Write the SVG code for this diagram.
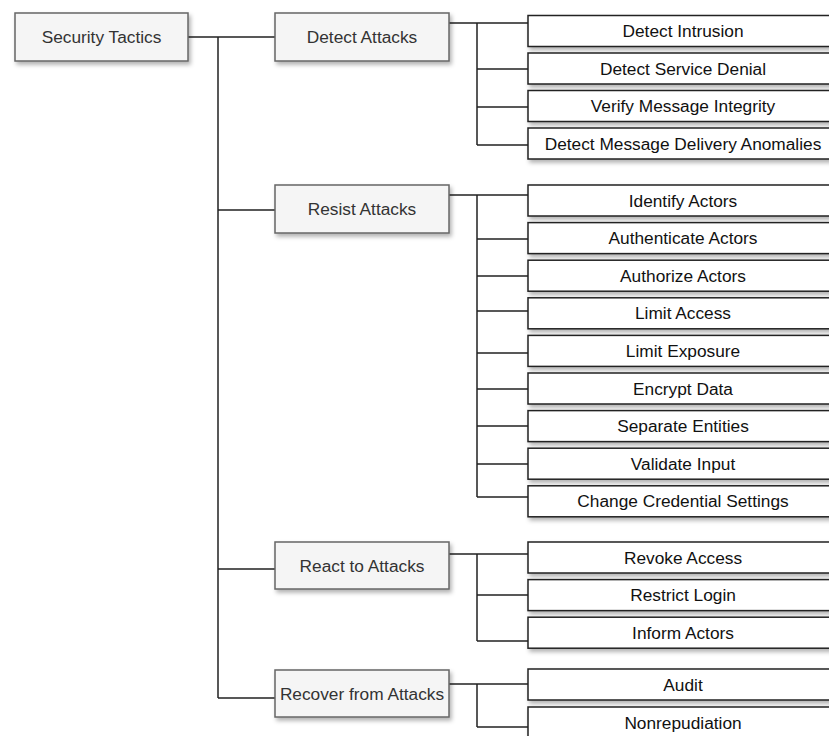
<svg xmlns="http://www.w3.org/2000/svg" width="829" height="736" viewBox="0 0 829 736">
<defs>
<filter id="sh" x="-10%" y="-20%" width="130%" height="160%">
<feDropShadow dx="2" dy="3" stdDeviation="2" flood-color="#000" flood-opacity="0.3"/>
</filter>
</defs>
<style>
.p rect{fill:#f5f5f5;stroke:#666;stroke-width:1.5;filter:url(#sh)}
.p text{font-family:"Liberation Sans",Arial,sans-serif;font-size:17.3px;fill:#333;text-anchor:middle}
.l rect{fill:#fff;stroke:#222;stroke-width:1.5;filter:url(#sh)}
.l text{font-family:"Liberation Sans",Arial,sans-serif;font-size:17.3px;fill:#111;text-anchor:middle}
#connectors path{fill:none;stroke:#222;stroke-width:1.5}
</style>
<rect width="829" height="736" fill="#fff"/>
<g id="connectors">
<path d="M188 37H275M218 37V698M218 210H275M218 569H275M218 698H275"/>
<path d="M449 23H528M477 23V145M477 69H528M477 107H528M477 145H528"/>
<path d="M449 195H528M477 195V497M477 239H528M477 276H528M477 311H528M477 353H528M477 389H528M477 426H528M477 464H528M477 497H528"/>
<path d="M449 554H528M477 554V641M477 595H528M477 641H528"/>
<path d="M449 684H528M477 684V727M477 727H528"/>
</g>
<g id="security-tactics" class="p"><rect x="15" y="13" width="173" height="48"/><text x="101.5" y="43">Security Tactics</text></g>
<g id="detect-attacks" class="p"><rect x="275" y="13" width="174" height="48"/><text x="362" y="43">Detect Attacks</text></g>
<g id="resist-attacks" class="p"><rect x="275" y="185" width="174" height="48"/><text x="362" y="215">Resist Attacks</text></g>
<g id="react-to-attacks" class="p"><rect x="275" y="542" width="174" height="47"/><text x="362" y="571.5">React to Attacks</text></g>
<g id="recover-from-attacks" class="p"><rect x="275" y="670" width="174" height="47"/><text x="362" y="699.5">Recover from Attacks</text></g>
<g id="detect-intrusion" class="l"><rect x="528" y="15.5" width="310" height="31"/><text x="683" y="37">Detect Intrusion</text></g>
<g id="detect-service-denial" class="l"><rect x="528" y="53" width="310" height="31"/><text x="683" y="74.5">Detect Service Denial</text></g>
<g id="verify-message-integrity" class="l"><rect x="528" y="90.5" width="310" height="31"/><text x="683" y="112">Verify Message Integrity</text></g>
<g id="detect-message-delivery-anomalies" class="l"><rect x="528" y="128" width="310" height="31"/><text x="683" y="149.5">Detect Message Delivery Anomalies</text></g>
<g id="identify-actors" class="l"><rect x="528" y="185" width="310" height="31"/><text x="683" y="206.5">Identify Actors</text></g>
<g id="authenticate-actors" class="l"><rect x="528" y="222.6" width="310" height="31"/><text x="683" y="244.1">Authenticate Actors</text></g>
<g id="authorize-actors" class="l"><rect x="528" y="260.2" width="310" height="31"/><text x="683" y="281.7">Authorize Actors</text></g>
<g id="limit-access" class="l"><rect x="528" y="297.8" width="310" height="31"/><text x="683" y="319.3">Limit Access</text></g>
<g id="limit-exposure" class="l"><rect x="528" y="335.4" width="310" height="31"/><text x="683" y="356.9">Limit Exposure</text></g>
<g id="encrypt-data" class="l"><rect x="528" y="373" width="310" height="31"/><text x="683" y="394.5">Encrypt Data</text></g>
<g id="separate-entities" class="l"><rect x="528" y="410.6" width="310" height="31"/><text x="683" y="432.1">Separate Entities</text></g>
<g id="validate-input" class="l"><rect x="528" y="448.2" width="310" height="31"/><text x="683" y="469.7">Validate Input</text></g>
<g id="change-credential-settings" class="l"><rect x="528" y="485.8" width="310" height="31"/><text x="683" y="507.3">Change Credential Settings</text></g>
<g id="revoke-access" class="l"><rect x="528" y="542" width="310" height="31"/><text x="683" y="563.5">Revoke Access</text></g>
<g id="restrict-login" class="l"><rect x="528" y="579.6" width="310" height="31"/><text x="683" y="601.1">Restrict Login</text></g>
<g id="inform-actors" class="l"><rect x="528" y="617.2" width="310" height="31"/><text x="683" y="638.7">Inform Actors</text></g>
<g id="audit" class="l"><rect x="528" y="669" width="310" height="31"/><text x="683" y="690.5">Audit</text></g>
<g id="nonrepudiation" class="l"><rect x="528" y="707" width="310" height="31"/><text x="683" y="728.5">Nonrepudiation</text></g>
</svg>
